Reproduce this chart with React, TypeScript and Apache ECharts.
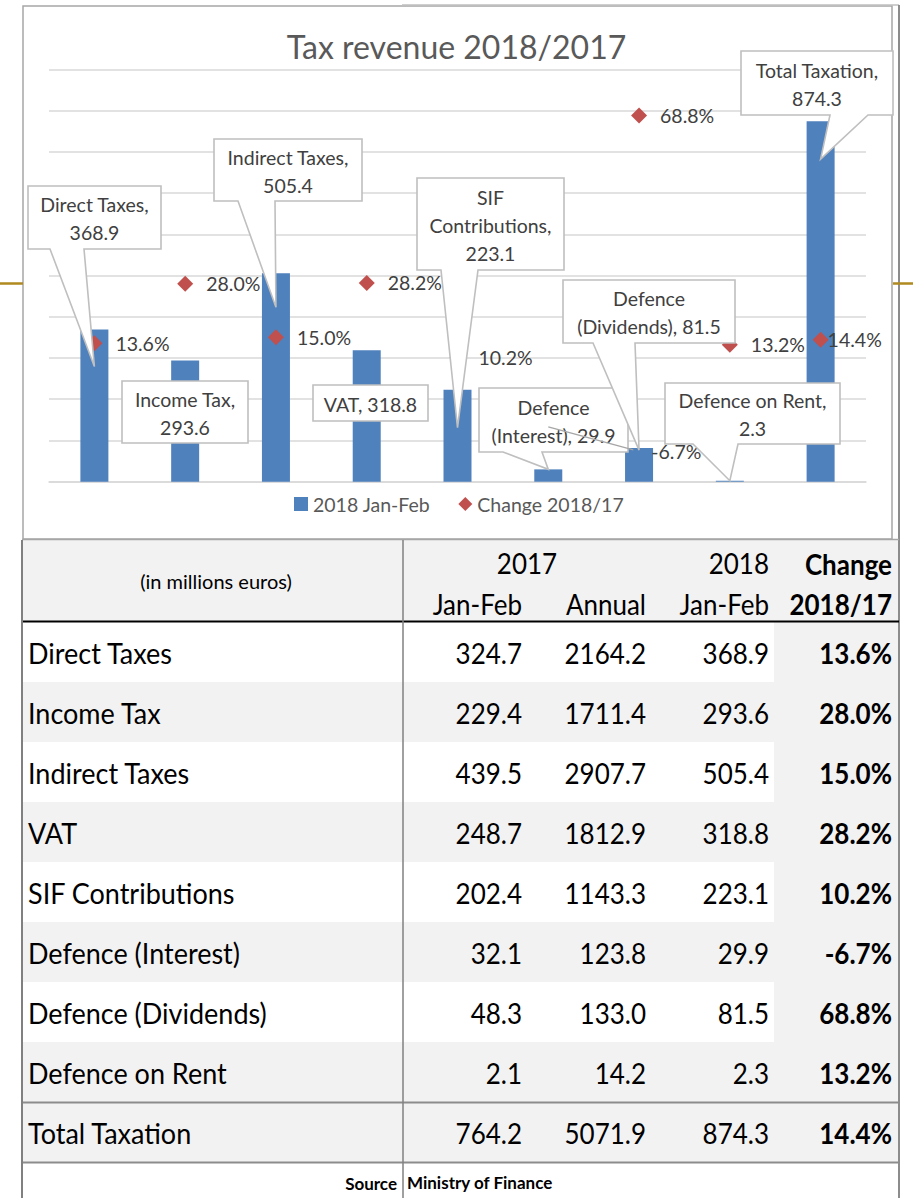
import React, { useEffect, useRef } from 'react';
import * as echarts from 'echarts';

// ---------- data ----------
const categories = [
  'Direct Taxes',
  'Income Tax',
  'Indirect Taxes',
  'VAT',
  'SIF Contributions',
  'Defence (Interest)',
  'Defence (Dividends)',
  'Defence on Rent',
  'Total Taxation',
];
const janFeb2017 = [324.7, 229.4, 439.5, 248.7, 202.4, 32.1, 48.3, 2.1, 764.2];
const annual2017 = [2164.2, 1711.4, 2907.7, 1812.9, 1143.3, 123.8, 133.0, 14.2, 5071.9];
const janFeb2018 = [368.9, 293.6, 505.4, 318.8, 223.1, 29.9, 81.5, 2.3, 874.3];
const change = [13.6, 28.0, 15.0, 28.2, 10.2, -6.7, 68.8, 13.2, 14.4];
const calloutTemplates = [
  'Direct Taxes,\n{v}',
  'Income Tax,\n{v}',
  'Indirect Taxes,\n{v}',
  'VAT, {v}',
  'SIF\nContributions,\n{v}',
  'Defence\n(Interest), {v}',
  'Defence\n(Dividends), {v}',
  'Defence on Rent,\n{v}',
  'Total Taxation,\n{v}',
];
const seriesNames = ['2018 Jan-Feb', 'Change 2018/17'];
const title = 'Tax revenue 2018/2017';
const headerTexts = {
  unit: '(in millions euros)',
  y2017: '2017',
  y2018: '2018',
  change1: 'Change',
  change2: '2018/17',
  c1: 'Jan-Feb',
  c2: 'Annual',
  c3: 'Jan-Feb',
};
const sourceLabel = 'Source';
const sourceText = 'Ministry of Finance';

// ---------- layout / style ----------
const FONT = 'Lato, "Open Sans", sans-serif';
const W = 913;
const H = 1198;
const BAR = '#4f81bd';
const MARK = '#c0504d';
const GRID = '#d9d9d9';
const LABEL = '#404040';

// callout boxes (pixel layout) : [x1, y1, x2, y2], wedge base on bottom edge, tip offset below bar top
const CALLOUTS: { box: number[]; base?: number[]; dy?: number }[] = [
  { box: [28, 186, 161, 249], base: [50, 84], dy: 37 },
  { box: [122, 381, 248, 443] },
  { box: [214, 139, 362, 201], base: [238, 275], dy: 34 },
  { box: [313, 385, 428, 421] },
  { box: [417, 178, 564, 270], base: [441, 478], dy: 38 },
  { box: [479, 388, 628, 452], base: [503, 542], dy: 0 },
  { box: [563, 280, 735, 343], base: [593, 635], dy: 2 },
  { box: [665, 383, 840, 444], base: [693, 738], dy: 0 },
  { box: [741, 51, 893, 115], base: [830, 868], dy: 38 },
];
const LABEL_OFFSETS: Record<number, number[]> = { 5: [82, 25], 8: [-14, 0] };
const LEADER_INDEX = 5;

const txt = (
  text: string,
  x: number,
  y: number,
  o: { size?: number; color?: string; weight?: string | number; align?: string; lh?: number; z?: number; sy?: number } = {}
) => ({
  type: 'text',
  z: o.z ?? 10,
  silent: true,
  x: 0,
  y: y,
  scaleY: o.sy ?? 1,
  style: {
    text,
    x,
    y: 0,
    fill: o.color || '#000',
    fontSize: o.size || 26,
    fontFamily: FONT,
    fontWeight: o.weight || 'normal',
    align: o.align || 'left',
    textAlign: o.align || 'left',
    verticalAlign: 'middle',
    textVerticalAlign: 'middle',
    lineHeight: o.lh || Math.round((o.size || 26) * 1.2),
  },
});

const rect = (x: number, y: number, w: number, h: number, fill: string, z = 1) => ({
  type: 'rect',
  z,
  silent: true,
  shape: { x, y, width: w, height: h },
  style: { fill },
});

const line = (x1: number, y1: number, x2: number, y2: number, stroke: string, lw: number, z = 5) => ({
  type: 'line',
  z,
  silent: true,
  shape: { x1, y1, x2, y2 },
  style: { stroke, lineWidth: lw },
});

function buildFrame() {
  return [
    {
      type: 'rect',
      z: 1,
      silent: true,
      shape: { x: 23, y: 6, width: 869, height: 533 },
      style: { fill: 'none', stroke: '#a6a6a6', lineWidth: 1.5 },
    },
    line(402, 5, 899, 5, '#bfbfbf', 1.5),
    line(899, 5, 899, H, '#8c8c8c', 2),
    line(0, 283.5, 23, 283.5, '#b08a1e', 2.5),
    line(893, 283.5, W, 283.5, '#b08a1e', 2.5),
  ];
}

function buildTable() {
  const els: any[] = [];
  const L = 22;
  const R = 899;
  const CHG = 774;
  const SY = 1.08;
  // header
  els.push(rect(L, 540, R - L, 81, '#f2f2f2'));
  const rowTop = 622;
  const rowH = 60;
  const n = categories.length - 1;
  for (let k = 0; k < n; k++) {
    const top = rowTop + rowH * k;
    if (k % 2 === 1) {
      els.push(rect(L, top, R - L, rowH, '#f2f2f2'));
    } else {
      els.push(rect(L, top, CHG - L, rowH, '#ffffff'));
      els.push(rect(CHG, top, R - CHG, rowH, '#f2f2f2'));
    }
  }
  const totTop = rowTop + rowH * n;
  els.push(rect(L, totTop, R - L, rowH, '#f2f2f2'));
  els.push(rect(L, totTop + rowH, R - L, H - totTop - rowH, '#ffffff'));

  // lines
  els.push(line(L - 1, 621.5, R, 621.5, '#000000', 2.2));
  els.push(line(L, totTop + 0.5, R, totTop + 0.5, '#8c8c8c', 2));
  els.push(line(L, totTop + rowH + 0.5, R, totTop + rowH + 0.5, '#8c8c8c', 2));
  els.push(line(L, 539.5, R, 539.5, '#a6a6a6', 1.5));
  els.push(line(L, 540, L, H, '#808080', 2));
  els.push(line(403, 540, 403, H, '#808080', 1.5));

  // header texts
  els.push(txt(headerTexts.unit, 216, 581, { size: 20, align: 'center' }));
  els.push(txt(headerTexts.y2017, 527, 563, { align: 'center', sy: SY }));
  els.push(txt(headerTexts.y2018, 769, 563, { align: 'right', sy: SY }));
  els.push(txt(headerTexts.change1, 892, 564, { align: 'right', weight: 'bold', sy: SY }));
  els.push(txt(headerTexts.c1, 522, 604, { align: 'right', sy: SY }));
  els.push(txt(headerTexts.c2, 646, 604, { align: 'right', sy: SY }));
  els.push(txt(headerTexts.c3, 769, 604, { align: 'right', sy: SY }));
  els.push(txt(headerTexts.change2, 892, 604, { align: 'right', weight: 'bold', sy: SY }));

  // body
  const colR = [522, 646, 769, 892];
  categories.forEach((c, i) => {
    const cy = rowTop + rowH * i + 31;
    els.push(txt(c, 28, cy, { size: 27, sy: SY }));
    els.push(txt(janFeb2017[i].toFixed(1), colR[0], cy, { align: 'right', sy: SY }));
    els.push(txt(annual2017[i].toFixed(1), colR[1], cy, { align: 'right', sy: SY }));
    els.push(txt(janFeb2018[i].toFixed(1), colR[2], cy, { align: 'right', sy: SY }));
    els.push(txt(change[i].toFixed(1) + '%', colR[3], cy, { align: 'right', weight: 'bold', sy: SY }));
  });

  els.push(txt(sourceLabel, 397, 1183, { align: 'right', weight: 'bold', size: 17 }));
  els.push(txt(sourceText, 407, 1182, { weight: 'bold', size: 17 }));
  return els;
}

function buildCallouts(chart: any) {
  const els: any[] = [];
  CALLOUTS.forEach((c, i) => {
    const [x1, y1, x2, y2] = c.box;
    let points: number[][];
    if (c.base) {
      const p = chart.convertToPixel({ seriesIndex: 0 }, [i, janFeb2018[i]]);
      const tx = p[0];
      const ty = p[1] + (c.dy || 0);
      points = [
        [x1, y1],
        [x2, y1],
        [x2, y2],
        [c.base[1], y2],
        [tx, ty],
        [c.base[0], y2],
        [x1, y2],
      ];
    } else {
      points = [
        [x1, y1],
        [x2, y1],
        [x2, y2],
        [x1, y2],
      ];
    }
    els.push({
      type: 'polygon',
      z: 100,
      silent: true,
      shape: { points },
      style: { fill: '#ffffff', stroke: '#bfbfbf', lineWidth: 1.6 },
    });
    const text = calloutTemplates[i].replace('{v}', janFeb2018[i].toFixed(1));
    els.push(txt(text, (x1 + x2) / 2, (y1 + y2) / 2 + 1, { size: 19.5, color: LABEL, align: 'center', lh: 28, z: 101 }));
  });
  // leader line for moved percentage label
  const p = chart.convertToPixel({ seriesIndex: 1 }, [LEADER_INDEX, change[LEADER_INDEX]]);
  const off = LABEL_OFFSETS[LEADER_INDEX];
  els.push(line(p[0], p[1], p[0] + off[0] + 3, p[1] + off[1] - 2, '#a6a6a6', 1.3, 102));
  return els;
}

export default function App() {
  const ref = useRef<HTMLDivElement>(null);
  useEffect(() => {
    const chart = echarts.init(ref.current!, null, { renderer: 'svg' });
    const option: any = {
      animation: false,
      backgroundColor: '#ffffff',
      title: {
        text: title,
        left: 'center',
        top: 30,
        padding: 0,
        textStyle: { fontFamily: FONT, fontSize: 32, fontWeight: 'normal', color: '#595959' },
      },
      legend: {
        data: [
          { name: seriesNames[0], icon: 'rect' },
          { name: seriesNames[1], icon: 'diamond' },
        ],
        left: 294,
        top: 494,
        padding: 0,
        itemWidth: 14,
        itemHeight: 14,
        itemGap: 28,
        textStyle: { fontFamily: FONT, fontSize: 19.5, color: '#595959' },
      },
      grid: { left: 49, right: W - 866, top: 69.3, height: 412.4, containLabel: false },
      xAxis: {
        type: 'category',
        data: categories,
        axisLine: { show: true, lineStyle: { color: GRID, width: 1.5 } },
        axisTick: { show: false },
        axisLabel: { show: false },
      },
      yAxis: [
        {
          type: 'value',
          min: 0,
          max: 1000,
          interval: 100,
          axisLabel: { show: false },
          axisLine: { show: false },
          axisTick: { show: false },
          splitLine: { lineStyle: { color: GRID, width: 1.5 } },
        },
        {
          type: 'value',
          min: -20,
          max: 80,
          interval: 10,
          show: false,
          splitLine: { show: false },
        },
      ],
      series: [
        {
          name: seriesNames[0],
          type: 'bar',
          data: janFeb2018,
          barWidth: 28,
          itemStyle: { color: BAR },
          z: 2,
        },
        {
          name: seriesNames[1],
          type: 'scatter',
          yAxisIndex: 1,
          symbol: 'diamond',
          symbolSize: 16,
          itemStyle: { color: MARK, opacity: 1 },
          z: 3,
          data: change.map((v, i) =>
            LABEL_OFFSETS[i] ? { value: v, label: { offset: LABEL_OFFSETS[i] } } : v
          ),
          label: {
            show: true,
            position: 'right',
            distance: 13,
            formatter: (p: any) => Number(p.value).toFixed(1) + '%',
            fontFamily: FONT,
            fontSize: 19.5,
            color: LABEL,
          },
        },
      ],
    };
    chart.setOption(option);
    chart.setOption({ graphic: [...buildFrame(), ...buildTable(), ...buildCallouts(chart)] });
    return () => chart.dispose();
  }, []);
  return <div ref={ref} style={{ position: 'absolute', left: 0, top: 0, width: W, height: H }} />;
}
